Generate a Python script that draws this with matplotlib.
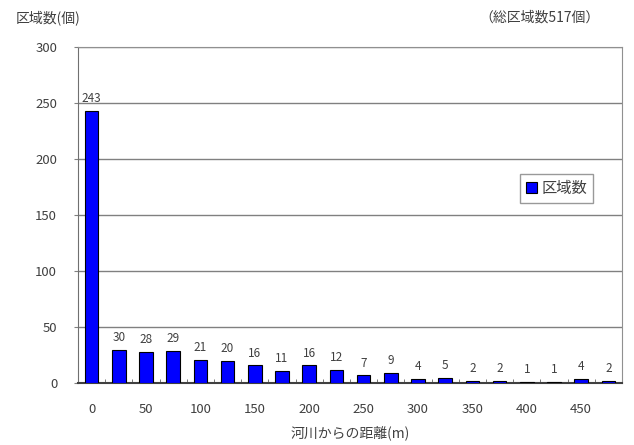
import matplotlib
matplotlib.use("Agg")
import matplotlib.pyplot as plt
from matplotlib.ticker import FixedLocator

plt.rcParams['font.family'] = ['Noto Sans CJK JP', 'DejaVu Sans']

counts = [243, 30, 28, 29, 21, 20, 16, 11, 16, 12, 7, 9, 4, 5, 2, 2, 1, 1, 4, 2]
tick_labels = ["0", "50", "100", "150", "200", "250", "300", "350", "400", "450"]
y_ticks = [0, 50, 100, 150, 200, 250, 300]
series_name = "区域数"
y_title = "区域数(個)"
x_title = "河川からの距離(m)"
note = "（総区域数517個）"

txt = "#404040"
fig = plt.figure(figsize=(6.34, 4.45), dpi=100)
ax = fig.add_axes([0.123, 0.139, 0.858, 0.755])

x = list(range(len(counts)))
ax.bar(x, counts, width=0.5, color="#0000FF", edgecolor="black", linewidth=0.8,
       label=series_name, zorder=3)
for xi, v in zip(x, counts):
    ax.text(xi, v + 5, str(v), ha="center", va="bottom", fontsize=8.5, color=txt)

ax.set_xlim(-0.5, len(counts) - 0.5)
ax.set_ylim(0, 300)
ax.set_yticks(y_ticks)
ax.set_yticklabels([str(t) for t in y_ticks], fontsize=9.5, color=txt)
ax.yaxis.grid(True, color="#808080", linewidth=1.0, zorder=0)

ax.set_xticks(range(0, len(counts), 2))
ax.set_xticklabels(tick_labels, fontsize=9.5, color=txt)
ax.tick_params(axis="x", length=0, pad=14)
ax.xaxis.set_minor_locator(FixedLocator([i + 0.5 for i in range(len(counts) - 1)]))
ax.tick_params(axis="x", which="minor", direction="in", length=3, color="#606060")
ax.tick_params(axis="y", length=3, color="#808080", pad=12)

for s in ["top", "right"]:
    ax.spines[s].set_color("#909090")
ax.spines["left"].set_color("#707070")
ax.spines["bottom"].set_color("#404040")
ax.spines["bottom"].set_linewidth(1.5)

ax.set_xlabel(x_title, fontsize=10, color=txt, labelpad=7)

fig.text(0.024, 0.96, y_title, fontsize=10, color=txt, ha="left", va="center")
fig.text(0.945, 0.96, note, fontsize=10, color=txt, ha="right", va="center")

leg = ax.legend(loc="center", bbox_to_anchor=(0.88, 0.58), fontsize=11, frameon=True,
                fancybox=False, edgecolor="#808080", handlelength=0.7, handleheight=0.7,
                handletextpad=0.3, borderpad=0.4)
for t in leg.get_texts():
    t.set_color(txt)

fig.savefig("out.png", dpi=100)
